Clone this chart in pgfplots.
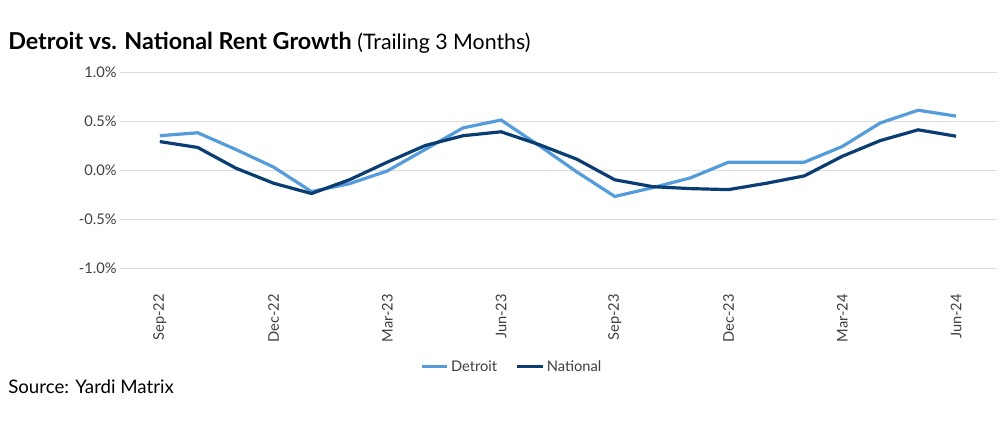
\documentclass[border=0pt]{standalone}
\usepackage{fontspec}
\setmainfont{Lato}
\usepackage{pgfplots}
\pgfplotsset{compat=1.18}
\definecolor{detroit}{HTML}{559CDB}
\definecolor{national}{HTML}{0A3D72}
\definecolor{gridc}{HTML}{DDDDDD}
\definecolor{txt}{HTML}{404040}
\begin{document}
\begin{tikzpicture}
\path[fill=white] (0,0) rectangle (755.25pt,324.75pt);
\node[anchor=west,inner sep=0pt,text=black] at (6pt,292.5pt) {\fontsize{17.5pt}{20pt}\selectfont\textbf{Detroit vs. National Rent Growth} {\fontsize{16pt}{19pt}\selectfont(Trailing 3 Months)}};
\node[anchor=west,inner sep=0pt,text=black] at (6pt,34.5pt) {\fontsize{14pt}{17pt}\selectfont Source: Yardi Matrix};
\begin{axis}[
  at={(90pt,123.75pt)}, anchor=south west,
  scale only axis, width=657.75pt, height=147pt,
  xmin=-1.05, xmax=22.08, ymin=-1, ymax=1,
  axis line style={draw=none},
  major tick length=0pt,
  ytick={-1,-0.5,0,0.5,1},
  yticklabels={-1.0\%,-0.5\%,0.0\%,0.5\%,1.0\%},
  ymajorgrids, grid style={gridc, line width=0.75pt},
  xtick={0,3,6,9,12,15,18,21},
  xticklabels={Sep-22,Dec-22,Mar-23,Jun-23,Sep-23,Dec-23,Mar-24,Jun-24},
  xticklabel style={rotate=90, anchor=east, font=\fontsize{11pt}{13pt}\selectfont, text=txt},
  xticklabel shift=16pt,
  yticklabel style={font=\fontsize{11pt}{13pt}\selectfont, text=txt},
  yticklabel shift=-1pt,
  legend style={at={(0.447,-0.505)}, anchor=center, draw=none, fill=none,
    font=\fontsize{11pt}{13pt}\selectfont, text=txt, /tikz/every even column/.append style={column sep=12pt}},
  legend columns=2,
  legend image code/.code={\draw[#1, line width=2.25pt] (0pt,0pt) -- (19pt,0pt);},
]
\addplot[detroit, line width=2.4pt] coordinates {
(0,0.35)(1,0.38)(2,0.21)(3,0.03)(4,-0.22)(5,-0.14)(6,-0.01)(7,0.21)(8,0.43)(9,0.51)(10,0.25)(11,-0.02)(12,-0.27)(13,-0.18)(14,-0.08)(15,0.08)(16,0.08)(17,0.08)(18,0.24)(19,0.48)(20,0.61)(21,0.55)};
\addlegendentry{Detroit}
\addplot[national, line width=2.4pt] coordinates {
(0,0.29)(1,0.23)(2,0.02)(3,-0.135)(4,-0.24)(5,-0.10)(6,0.08)(7,0.25)(8,0.35)(9,0.39)(10,0.26)(11,0.11)(12,-0.10)(13,-0.17)(14,-0.19)(15,-0.20)(16,-0.135)(17,-0.06)(18,0.14)(19,0.30)(20,0.41)(21,0.345)};
\addlegendentry{National}
\end{axis}
\end{tikzpicture}
\end{document}
